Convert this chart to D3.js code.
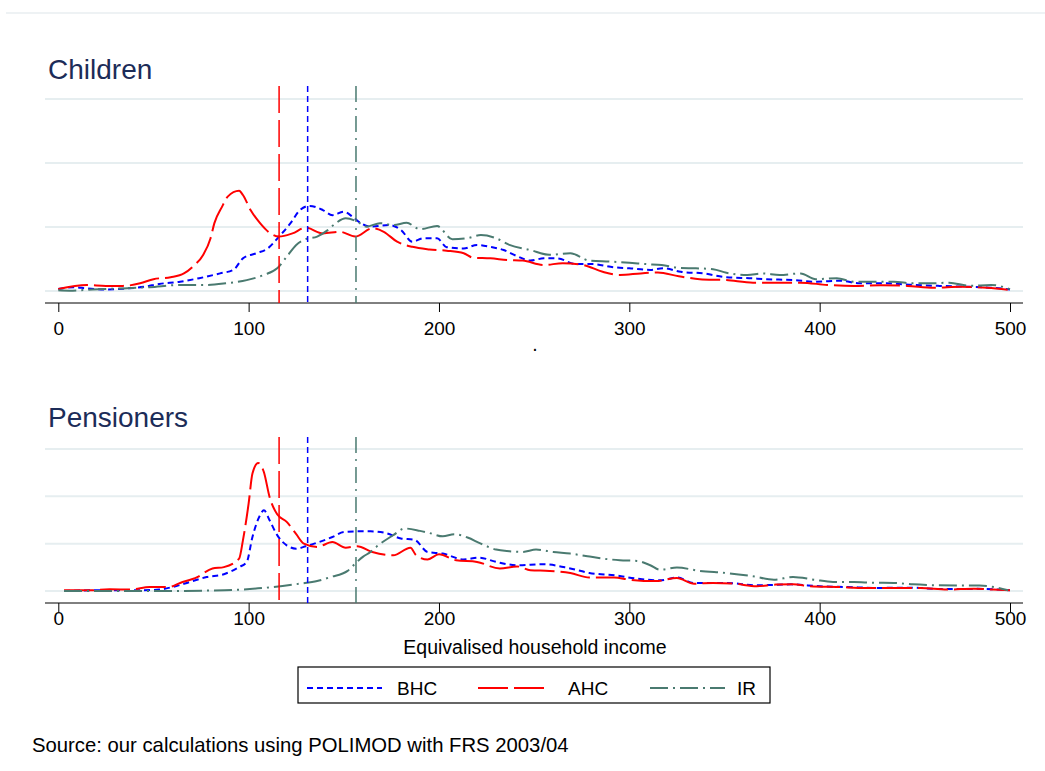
<!DOCTYPE html>
<html>
<head>
<meta charset="utf-8">
<script src="https://cdnjs.cloudflare.com/ajax/libs/d3/7.8.5/d3.min.js"></script>
<style>
  body { margin: 0; background: #fff; }
  svg { display: block; font-family: "Liberation Sans", Arial, sans-serif; }
</style>
</head>
<body>
<svg id="chart"></svg>
<script>
const WIDTH = 1045;
const HEIGHT = 771;

// series order: BHC, AHC, IR
const SERIES = ['BHC', 'AHC', 'IR'];
const COLORS = { BHC: '#0000ff', AHC: '#ff0000', IR: '#4a7a70' };
const DASHES = { BHC: '6,4', AHC: '30,6', IR: '18,5,2,5' };
const REF_DASHES = { BHC: '6,4', AHC: '27,7', IR: '16,6,2,6' };

// poverty lines (income), same in both panels
const povertyLines = [131, 116, 156.4];

const xTicks = [0, 100, 200, 300, 400, 500];
const yGrid = [0, 2, 4, 6];

// density (x1000) against equivalised income
const childBHC = [[0,0.06],[8,0.12],[15,0.08],[25,0.05],[36,0.08],[45,0.13],[53,0.22],[64,0.29],[74,0.40],[85,0.55],[92,0.66],[97,1.02],[104,1.18],[110,1.33],[116,1.70],[122,2.12],[127,2.53],[132,2.66],[139,2.53],[144,2.37],[150,2.48],[155,2.30],[159,2.12],[164,2.01],[174,2.06],[180,1.91],[186,1.54],[192,1.65],[199,1.65],[204,1.37],[213,1.33],[220,1.44],[227,1.38],[234,1.28],[241,1.09],[248,0.95],[255,1.02],[262,1.02],[272,0.84],[281,0.84],[292,0.74],[300,0.71],[311,0.66],[318,0.71],[327,0.60],[339,0.55],[351,0.43],[363,0.40],[372,0.37],[386,0.34],[398,0.29],[411,0.32],[421,0.24],[435,0.24],[449,0.19],[463,0.16],[479,0.13],[491,0.10],[500,0.05]];
const childAHC = [[0,0.06],[15,0.19],[25,0.16],[34,0.16],[43,0.24],[50,0.37],[59,0.43],[66,0.55],[71,0.78],[76,1.12],[80,1.65],[82,2.12],[86,2.63],[89,2.95],[95,3.13],[97,3.0],[101,2.53],[106,2.12],[111,1.82],[116,1.70],[123,1.80],[130,1.98],[139,1.80],[148,1.85],[156,1.70],[165,1.96],[171,1.85],[178,1.54],[186,1.38],[195,1.30],[204,1.26],[213,1.18],[218,1.04],[227,1.02],[236,0.97],[244,0.95],[255,0.81],[265,0.87],[276,0.81],[286,0.60],[295,0.50],[306,0.55],[315,0.58],[326,0.46],[337,0.37],[351,0.34],[365,0.26],[377,0.26],[390,0.26],[404,0.19],[418,0.16],[432,0.18],[446,0.16],[460,0.10],[474,0.13],[488,0.10],[500,0.03]];
const childIR = [[0,0.02],[6,0.01],[18,0.05],[34,0.08],[48,0.12],[64,0.19],[78,0.19],[88,0.24],[99,0.34],[108,0.50],[115,0.71],[120,1.07],[125,1.44],[130,1.62],[136,1.70],[141,1.88],[146,2.13],[151,2.27],[157,2.17],[162,2.01],[169,2.12],[176,2.06],[183,2.13],[190,1.93],[199,2.03],[207,1.62],[215,1.65],[222,1.75],[230,1.65],[237,1.44],[248,1.28],[258,1.13],[269,1.18],[279,0.95],[290,0.92],[300,0.88],[309,0.84],[317,0.81],[327,0.72],[335,0.71],[344,0.68],[351,0.57],[362,0.50],[370,0.55],[379,0.50],[390,0.55],[398,0.37],[409,0.40],[418,0.29],[428,0.29],[439,0.29],[449,0.24],[458,0.24],[468,0.26],[479,0.16],[490,0.19],[500,0.06]];

const pensBHC = [[3,0.0],[22,0.03],[43,0.03],[53,0.06],[60,0.17],[69,0.38],[78,0.59],[87,0.71],[95,1.01],[99,1.23],[102,2.28],[106,3.20],[108,3.41],[111,2.99],[115,2.36],[120,1.93],[125,1.79],[130,1.89],[137,2.07],[144,2.28],[150,2.49],[157,2.52],[164,2.52],[172,2.45],[180,2.22],[187,2.17],[194,1.65],[202,1.58],[213,1.33],[221,1.41],[230,1.23],[241,1.09],[255,1.13],[269,0.95],[279,0.76],[293,0.66],[304,0.52],[316,0.45],[325,0.57],[334,0.34],[351,0.34],[367,0.24],[385,0.28],[400,0.20],[414,0.17],[430,0.13],[448,0.14],[465,0.08],[483,0.09],[500,0.03]];
const pensAHC = [[3,0.03],[17,0.03],[27,0.07],[38,0.06],[48,0.17],[58,0.17],[64,0.34],[73,0.59],[81,0.95],[87,1.01],[95,1.37],[97,2.14],[100,3.70],[102,4.96],[105,5.41],[108,5.03],[111,3.97],[115,3.24],[120,2.92],[125,2.40],[129,2.00],[136,1.86],[144,2.07],[151,1.83],[157,1.89],[165,1.65],[176,1.51],[185,1.83],[188,1.51],[194,1.33],[200,1.55],[209,1.30],[220,1.23],[232,0.95],[241,1.04],[248,0.88],[258,0.85],[269,0.76],[279,0.57],[292,0.57],[300,0.48],[314,0.42],[325,0.55],[334,0.31],[344,0.34],[355,0.31],[367,0.20],[377,0.27],[386,0.28],[395,0.20],[409,0.17],[425,0.13],[439,0.13],[453,0.13],[467,0.06],[481,0.10],[491,0.06],[500,0.03]];
const pensIR = [[3,0.0],[25,0.0],[43,0.0],[60,0.0],[78,0.02],[96,0.06],[113,0.17],[127,0.31],[136,0.42],[143,0.59],[152,0.85],[156,1.16],[160,1.44],[164,1.65],[167,1.86],[176,2.36],[182,2.64],[190,2.54],[195,2.45],[202,2.31],[208,2.40],[215,2.26],[222,2.00],[230,1.75],[237,1.68],[244,1.65],[251,1.75],[260,1.65],[269,1.58],[278,1.47],[286,1.37],[295,1.30],[304,1.27],[311,1.09],[316,0.90],[325,0.99],[337,0.85],[351,0.76],[365,0.62],[376,0.48],[386,0.59],[397,0.48],[407,0.38],[418,0.38],[428,0.35],[439,0.34],[449,0.28],[462,0.24],[474,0.23],[484,0.23],[499,0.03]];

// layout of the two panels (pixels)
const PLOT = { left: 45, right: 1023, x0: 58.3, x1: 1010 };
const PANELS = [
  { title: 'Children', titleY: 79, top: 86, gridTop: 99, gridBottom: 291, bottom: 303,
    tickY: 335, axisTitle: '.', axisTitleY: 351,
    series: { BHC: childBHC, AHC: childAHC, IR: childIR } },
  { title: 'Pensioners', titleY: 427, top: 437, gridTop: 449, gridBottom: 591, bottom: 603,
    tickY: 625, axisTitle: 'Equivalised household income', axisTitleY: 654,
    series: { BHC: pensBHC, AHC: pensAHC, IR: pensIR } }
];

const TITLE_COLOR = '#1c2c58';
const GRID_COLOR = '#e6eef0';

const svg = d3.select('#chart').attr('width', WIDTH).attr('height', HEIGHT);

// thin rule along the top
svg.append('line')
  .attr('x1', 6).attr('x2', WIDTH).attr('y1', 13).attr('y2', 13)
  .attr('stroke', '#e9eef0').attr('stroke-width', 1.5);

const x = d3.scaleLinear().domain([0, 500]).range([PLOT.x0, PLOT.x1]);

function drawPanel(p) {
  const g = svg.append('g');
  const y = d3.scaleLinear().domain([0, 6]).range([p.gridBottom, p.gridTop]);

  g.append('text')
    .attr('x', 48).attr('y', p.titleY)
    .attr('font-size', 28).attr('fill', TITLE_COLOR)
    .text(p.title);

  // gridlines
  g.selectAll('.grid')
    .data(yGrid)
    .join('line')
    .attr('x1', PLOT.left).attr('x2', PLOT.right)
    .attr('y1', d => y(d)).attr('y2', d => y(d))
    .attr('stroke', GRID_COLOR).attr('stroke-width', 2);

  // x axis
  const axis = d3.axisBottom(x).tickValues(xTicks).tickSize(9).tickPadding(0).tickFormat(d3.format('d'));
  const gAxis = g.append('g').attr('transform', `translate(0,${p.bottom})`).call(axis);
  gAxis.select('.domain').attr('d', `M${PLOT.left},0H${PLOT.right}`).attr('stroke', '#000');
  gAxis.selectAll('.tick line').attr('stroke', '#000');
  gAxis.selectAll('.tick text')
    .attr('y', p.tickY - p.bottom).attr('dy', 0)
    .attr('font-size', 19).attr('fill', '#000')
    .attr('font-family', '"Liberation Sans", Arial, sans-serif');

  g.append('text')
    .attr('x', (PLOT.left + PLOT.right) / 2 + 1).attr('y', p.axisTitleY)
    .attr('text-anchor', 'middle').attr('font-size', 19.5)
    .text(p.axisTitle);

  // density curves
  const line = d3.line()
    .x(d => x(d[0]))
    .y(d => y(d[1]))
    .curve(d3.curveMonotoneX);

  SERIES.forEach(s => {
    g.append('path')
      .datum(p.series[s])
      .attr('d', line)
      .attr('fill', 'none')
      .attr('stroke', COLORS[s])
      .attr('stroke-width', 2)
      .attr('stroke-dasharray', DASHES[s]);
  });

  // poverty lines
  g.selectAll('.pov')
    .data(povertyLines)
    .join('line')
    .attr('x1', d => x(d)).attr('x2', d => x(d))
    .attr('y1', p.top).attr('y2', p.bottom)
    .attr('stroke', (d, i) => COLORS[SERIES[i]])
    .attr('stroke-width', 1.5)
    .attr('stroke-dasharray', (d, i) => REF_DASHES[SERIES[i]]);
}

PANELS.forEach(drawPanel);

// legend
const LEGEND = { x: 298, y: 667, w: 472, h: 36 };
const legendItems = [
  { s: 'BHC', x1: 307, x2: 382, tx: 397 },
  { s: 'AHC', x1: 478, x2: 548, tx: 568 },
  { s: 'IR', x1: 650, x2: 725, tx: 737 }
];
const gLeg = svg.append('g');
gLeg.append('rect')
  .attr('x', LEGEND.x).attr('y', LEGEND.y)
  .attr('width', LEGEND.w).attr('height', LEGEND.h)
  .attr('fill', '#fff').attr('stroke', '#000').attr('stroke-width', 1.2);
legendItems.forEach(it => {
  const cy = LEGEND.y + LEGEND.h / 2 + 3;
  gLeg.append('line')
    .attr('x1', it.x1).attr('x2', it.x2).attr('y1', cy).attr('y2', cy)
    .attr('stroke', COLORS[it.s]).attr('stroke-width', 2)
    .attr('stroke-dasharray', DASHES[it.s]);
  gLeg.append('text')
    .attr('x', it.tx).attr('y', LEGEND.y + 28)
    .attr('font-size', 19)
    .text(it.s);
});

svg.append('text')
  .attr('x', 32).attr('y', 752)
  .attr('font-size', 20.3)
  .text('Source: our calculations using POLIMOD with FRS 2003/04');
</script>
</body>
</html>
